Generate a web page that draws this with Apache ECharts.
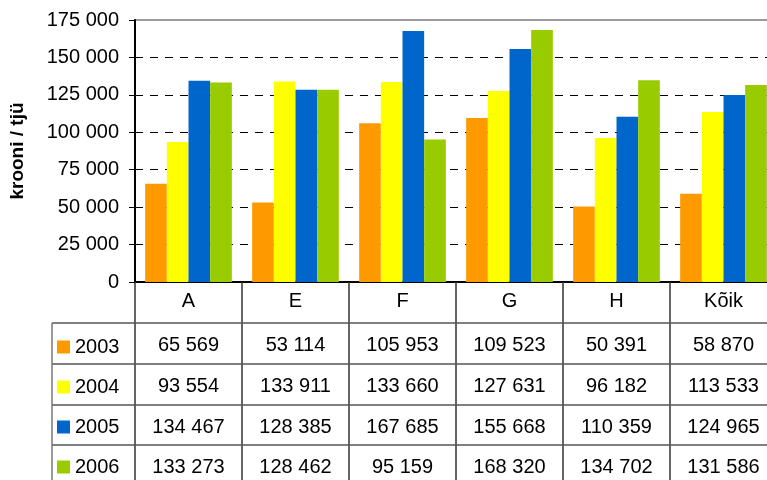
<!DOCTYPE html>
<html><head><meta charset="utf-8">
<script src="https://cdn.jsdelivr.net/npm/echarts@6/dist/echarts.min.js"></script>
<style>html,body{margin:0;padding:0;background:#fff}#c{width:767px;height:480px}</style>
</head><body><div id="c"></div>
<script>
const categories = ['A', 'E', 'F', 'G', 'H', 'Kõik'];
const years = ['2003', '2004', '2005', '2006'];
const v2003 = [65569, 53114, 105953, 109523, 50391, 58870];
const v2004 = [93554, 133911, 133660, 127631, 96182, 113533];
const v2005 = [134467, 128385, 167685, 155668, 110359, 124965];
const v2006 = [133273, 128462, 95159, 168320, 134702, 131586];
const seriesValues = [v2003, v2004, v2005, v2006];
const colors = ['#FF9900', '#FFFF00', '#0066CC', '#99CC00'];
const FONT = 'Liberation Sans, Arial, sans-serif';
const fmt = v => String(v).replace(/\B(?=(\d{3})+(?!\d))/g, ' ');

const chart = echarts.init(document.getElementById('c'), null, {renderer: 'canvas'});
const rowY = [323, 364, 405, 445, 486];

chart.setOption({
  animation: false,
  grid: {left: 135, top: 20, width: 642, height: 262, outerBoundsMode: 'none', containLabel: false,
         show: true, borderColor: '#9a9a9a', borderWidth: 2, backgroundColor: 'transparent'},
  legend: {
    orient: 'vertical', left: 57, top: 337, padding: 0,
    itemWidth: 13, itemHeight: 13, itemGap: 20, icon: 'rect',
    data: years,
    textStyle: {fontSize: 20, lineHeight: 20, color: '#000', fontFamily: FONT}
  },
  xAxis: {
    type: 'category', data: categories,
    axisLine: {lineStyle: {color: '#000', width: 2}},
    axisTick: {show: true, length: 200, lineStyle: {color: '#333', width: 1.5}},
    axisLabel: {fontSize: 20, color: '#000', margin: 9, fontFamily: FONT}
  },
  yAxis: {
    type: 'value', min: 0, max: 175000, interval: 25000,
    name: 'krooni / tjü', nameLocation: 'middle', nameGap: 108, nameRotate: 90,
    nameTextStyle: {fontSize: 19, fontWeight: 'bold', color: '#000', fontFamily: FONT},
    axisLine: {show: true, lineStyle: {color: '#000', width: 2}},
    axisTick: {show: true, length: 6, lineStyle: {color: '#000'}},
    axisLabel: {fontSize: 20, color: '#000', margin: 16, fontFamily: FONT, formatter: fmt},
    splitLine: {show: true, showMaxLine: false, lineStyle: {color: '#000', type: [8, 7], width: 1}}
  },
  series: years.map((y, i) => ({
    name: y, type: 'bar', data: seriesValues[i],
    itemStyle: {color: colors[i]},
    barGap: '0%', barCategoryGap: '19%'
  }))
});

// Table grid and values
const graphics = [];
const xRight = 767;
for (let r = 0; r < 4; r++) {
  graphics.push({type: 'line', shape: {x1: 52, y1: rowY[r], x2: xRight, y2: rowY[r]}, style: {stroke: '#555', lineWidth: 1.5}, z: 10});
}
graphics.push({type: 'line', shape: {x1: 52, y1: rowY[0], x2: 52, y2: 480}, style: {stroke: '#777', lineWidth: 1.5}, z: 10});
seriesValues.forEach((vals, r) => {
  vals.forEach((v, c) => {
    const cx = chart.convertToPixel({xAxisIndex: 0}, c);
    graphics.push({
      type: 'text', x: cx, y: (rowY[r] + rowY[r + 1]) / 2 + 2,
      style: {text: fmt(v), fontSize: 20, fill: '#000', fontFamily: FONT, align: 'center', verticalAlign: 'middle'},
      z: 10
    });
  });
});
chart.setOption({graphic: graphics});
</script>
</body></html>
